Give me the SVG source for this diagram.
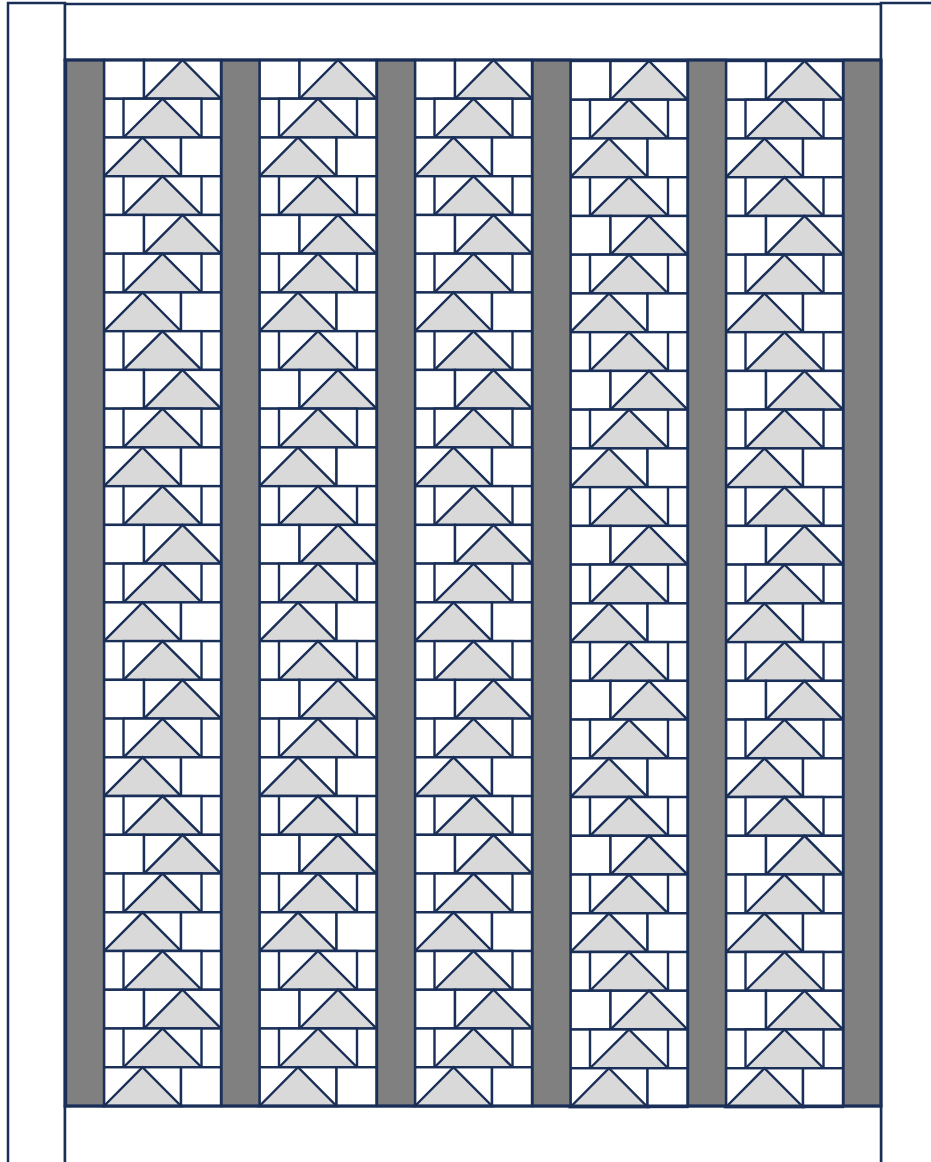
<svg xmlns="http://www.w3.org/2000/svg" xmlns:xlink="http://www.w3.org/1999/xlink" width="931" height="1162" viewBox="0 0 931 1162">
  <style>
    .pc { fill: #ffffff; stroke: #1a2f58; stroke-width: 2.4; }
    .tri { fill: #d9d9d9; stroke: #1a2f58; stroke-width: 2.4; stroke-linejoin: miter; }
    .sash { fill: #808080; stroke: #1a2f58; stroke-width: 2.4; }
    .border { fill: #ffffff; stroke: #1a2f58; stroke-width: 2.5; }
    .frame { fill: none; stroke: #1a2f58; stroke-width: 3; }
  </style>
  <defs>
    <g id="rR">
      <rect class="pc" x="0" y="0" width="40" height="38.74"/>
      <rect class="pc" x="40" y="0" width="77" height="38.74"/>
      <polygon class="tri" points="40,38.74 78.5,0 117,38.74"/>
    </g>
    <g id="rM">
      <rect class="pc" x="0" y="0" width="117" height="38.74"/>
      <rect class="pc" x="19.5" y="0" width="78" height="38.74"/>
      <polygon class="tri" points="19.5,38.74 58.5,0 97.5,38.74"/>
    </g>
    <g id="rL">
      <rect class="pc" x="0" y="0" width="77" height="38.74"/>
      <rect class="pc" x="77" y="0" width="40" height="38.74"/>
      <polygon class="tri" points="0,38.74 38.5,0 77,38.74"/>
    </g>
    <g id="strip">
      <use href="#rR" y="0"/>
      <use href="#rM" y="38.74"/>
      <use href="#rL" y="77.48"/>
      <use href="#rM" y="116.22"/>
      <use href="#rR" y="154.96"/>
      <use href="#rM" y="193.7"/>
      <use href="#rL" y="232.44"/>
      <use href="#rM" y="271.18"/>
      <use href="#rR" y="309.92"/>
      <use href="#rM" y="348.66"/>
      <use href="#rL" y="387.4"/>
      <use href="#rM" y="426.14"/>
      <use href="#rR" y="464.88"/>
      <use href="#rM" y="503.62"/>
      <use href="#rL" y="542.36"/>
      <use href="#rM" y="581.1"/>
      <use href="#rR" y="619.84"/>
      <use href="#rM" y="658.58"/>
      <use href="#rL" y="697.32"/>
      <use href="#rM" y="736.06"/>
      <use href="#rR" y="774.8"/>
      <use href="#rM" y="813.54"/>
      <use href="#rL" y="852.28"/>
      <use href="#rM" y="891.02"/>
      <use href="#rR" y="929.76"/>
      <use href="#rM" y="968.5"/>
      <use href="#rL" y="1007.24"/>
    </g>
  </defs>

  <g id="borders">
    <rect id="border-left" class="border" x="8" y="3" width="57" height="1175"/>
    <rect id="border-top" class="border" x="65" y="4" width="816" height="56"/>
    <rect id="border-right" class="border" x="881" y="3" width="70" height="1175"/>
    <rect id="border-bottom" class="border" x="65" y="1106" width="816" height="70"/>
  </g>

  <g id="columns">
    <use id="column-1" href="#strip" transform="translate(104,60)"/>
    <use id="column-2" href="#strip" transform="translate(259.5,60)"/>
    <use id="column-3" href="#strip" transform="translate(415,60)"/>
    <use id="column-4" href="#strip" transform="translate(570.5,61)"/>
    <use id="column-5" href="#strip" transform="translate(726,61)"/>
  </g>

  <g id="sashing">
    <rect class="sash" x="66" y="60" width="38" height="1046"/>
    <rect class="sash" x="221.5" y="60" width="38" height="1046"/>
    <rect class="sash" x="377" y="60" width="38" height="1046"/>
    <rect class="sash" x="532.5" y="60" width="38" height="1046"/>
    <rect class="sash" x="688" y="60" width="38" height="1046"/>
    <rect class="sash" x="843.5" y="60" width="37.5" height="1046"/>
  </g>

  <rect id="center-frame" class="frame" x="65" y="60" width="816" height="1046"/>
</svg>
